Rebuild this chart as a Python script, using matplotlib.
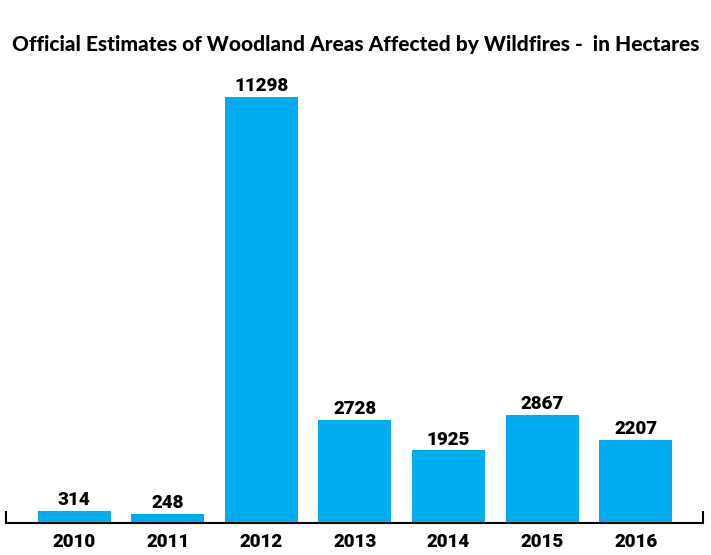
import matplotlib.pyplot as plt
import numpy as np

years = ['2010', '2011', '2012', '2013', '2014', '2015', '2016']
hectares = [314, 248, 11298, 2728, 1925, 2867, 2207]

bar_color = '#00aeef'
num_font = ['Roboto', 'DejaVu Sans']

fig = plt.figure(figsize=(7.11, 5.55), dpi=100)
ax = fig.add_axes([6 / 711, 32 / 555, 697 / 711, 463 / 555])

x = np.arange(len(years))
ax.bar(x, hectares, width=0.78, color=bar_color)

for xi, v in zip(x, hectares):
    ax.text(xi, v + 50, str(v), ha='center', va='bottom',
            fontsize=13.5, fontweight='black', family=num_font)

ax.set_xlim(-0.73, 6.72)
ax.set_ylim(0, 11298 * 463 / 426)

for s in ['top', 'right', 'left']:
    ax.spines[s].set_visible(False)
ax.spines['bottom'].set_linewidth(1.5)
ax.set_yticks([])

# end ticks on the axis line, labels under each bar
ax.set_xticks([-0.73, 6.72])
ax.set_xticklabels(['', ''])
ax.tick_params(axis='x', which='major', direction='in', length=9, width=1.5)
ax.set_xticks(x, minor=True)
ax.set_xticklabels(years, minor=True, fontsize=13.5, fontweight='black',
                   family=num_font)
ax.tick_params(axis='x', which='minor', length=0, pad=7)

fig.text(0.5, 1 - 44 / 555, 'Official Estimates of Woodland Areas Affected by Wildfires -  in Hectares',
         ha='center', va='center', fontsize=15, fontweight='black', family='Lato')

fig.savefig('out.png', dpi=100)
